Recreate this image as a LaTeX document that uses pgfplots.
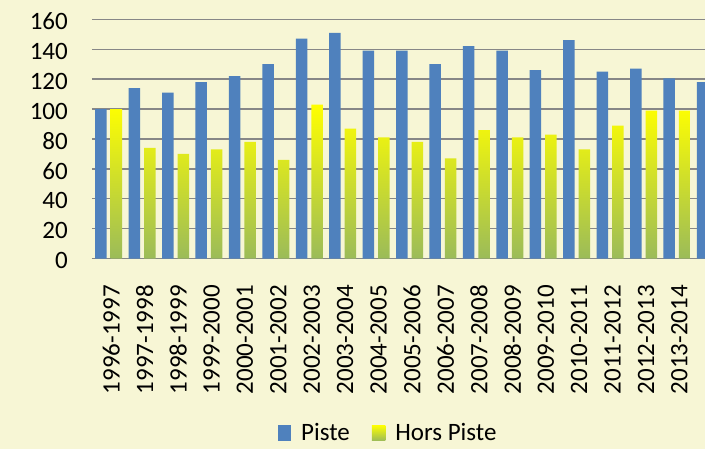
\documentclass[border=0pt]{standalone}
\usepackage{fontspec}
\setmainfont{Carlito}
\usepackage{pgfplots}
\pgfplotsset{compat=1.18}
\definecolor{bg}{HTML}{F7F6D5}
\definecolor{pisteblue}{HTML}{4F81BD}
\definecolor{gridgray}{HTML}{878787}
\definecolor{hpgreen}{HTML}{9BBB59}
\definecolor{hpyellow}{HTML}{FFFF00}
\begin{document}
\begin{tikzpicture}[x=1pt,y=1pt]
\fill[bg] (0,0) rectangle (705,449);
\begin{axis}[
  at={(92pt,190.3pt)}, anchor=south west,
  scale only axis, width=613pt, height=239.4pt,
  xmin=-0.5, xmax=17.84, ymin=0, ymax=160,
  ytick={0,20,...,160},
  xtick={0,...,17},
  xticklabels={1996-1997,1997-1998,1998-1999,1999-2000,2000-2001,2001-2002,2002-2003,2003-2004,2004-2005,2005-2006,2006-2007,2007-2008,2008-2009,2009-2010,2010-2011,2011-2012,2012-2013,2013-2014},
  /pgf/number format/assume math mode=true,
  ymajorgrids, major grid style={draw=gridgray, line width=1.3pt},
  axis x line*=bottom, axis y line*=left,
  x axis line style={draw=gridgray, line width=1.3pt},
  y axis line style={draw=none},
  tick style={draw=none},
  yticklabel style={font=\fontsize{25}{30}\selectfont, anchor=east, inner sep=0pt, xshift=-24pt, yshift=-2pt},
  xticklabel style={font=\fontsize{25}{30}\selectfont, rotate=90, anchor=east, inner sep=0pt, yshift=-2.5pt},
  xticklabel shift=22pt,
  ybar=0pt, bar width=11.5pt,
  legend columns=2,
  legend style={at={(0.483,-0.728)}, anchor=center, draw=none, fill=none,
    font=\fontsize{25}{30}\selectfont, inner sep=0pt,
    /tikz/every odd column/.append style={column sep=8pt},
    /tikz/every even column/.append style={column sep=20pt}},
  legend cell align=left,
  legend image code/.code={\path[#1] (0pt,-7.8pt) rectangle (13.5pt,7.8pt);},
]
\addplot[ybar, bar shift=-7.75pt, fill=pisteblue, draw=none] coordinates {
(0,100) (1,114) (2,111) (3,118) (4,122) (5,130) (6,147) (7,151) (8,139)
(9,139) (10,130) (11,142) (12,139) (13,126) (14,146) (15,125) (16,127) (17,120.5) (18,118)};
\addplot[ybar, bar shift=7.75pt, top color=hpyellow, bottom color=hpgreen, draw=none] coordinates {
(0,100) (1,74) (2,70) (3,73) (4,78) (5,66) (6,103) (7,87) (8,81)
(9,78) (10,67) (11,86) (12,81) (13,83) (14,73) (15,89) (16,99) (17,99)};
\legend{Piste, Hors Piste}
\end{axis}
\pgfresetboundingbox
\useasboundingbox (0,0) rectangle (705,449);
\end{tikzpicture}
\end{document}
